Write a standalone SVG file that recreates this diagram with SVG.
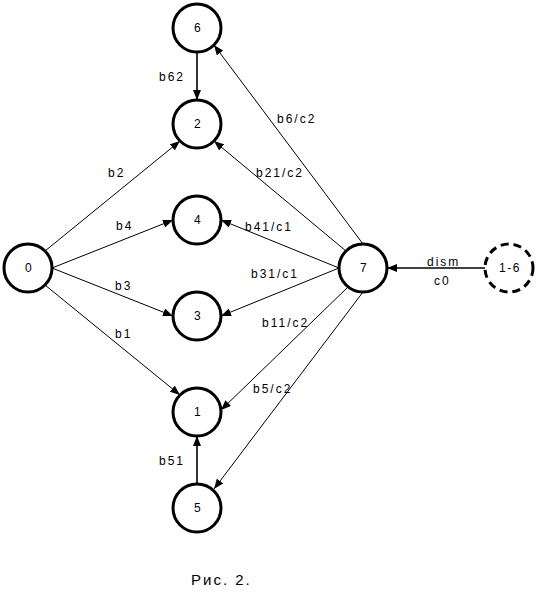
<svg xmlns="http://www.w3.org/2000/svg" width="537" height="607" viewBox="0 0 537 607">
<style>
.node circle{fill:#fff;stroke:#000;stroke-width:3}
.node text{font-family:"Liberation Sans",Arial,sans-serif;font-size:12px;letter-spacing:1.5px;text-anchor:middle;fill:#000}
.e{stroke:#000;stroke-width:1;fill:none;marker-end:url(#ah)}
.t{stroke-width:1.6}
.lbl{font-family:"Liberation Sans",Arial,sans-serif;font-size:12px;letter-spacing:2px;fill:#000}
.cap{font-family:"Liberation Sans",Arial,sans-serif;font-size:15px;letter-spacing:2px;fill:#000}
</style>
<defs>
<marker id="ah" viewBox="0 0 10 8" refX="10" refY="4" markerWidth="10" markerHeight="8" markerUnits="userSpaceOnUse" orient="auto">
<path d="M0,0 L10,4 L0,8 Z" fill="#000"/>
</marker>
</defs>
<rect width="537" height="607" fill="#fff"/>
<g id="connectors">
<line class="e t" x1="197" y1="52" x2="197" y2="100"/>
<line class="e t" x1="197" y1="484" x2="197" y2="436"/>
<line class="e t" x1="485" y1="268" x2="387" y2="268"/>
<line class="e" x1="45" y1="251" x2="180" y2="141"/>
<line class="e" x1="52" y1="268" x2="173" y2="220"/>
<line class="e" x1="52" y1="268" x2="173" y2="316"/>
<line class="e" x1="45" y1="285" x2="180" y2="395"/>
<line class="e" x1="363" y1="244" x2="214" y2="45"/>
<line class="e" x1="346" y1="251" x2="214" y2="141"/>
<line class="e" x1="339" y1="268" x2="221" y2="220"/>
<line class="e" x1="339" y1="268" x2="221" y2="316"/>
<line class="e" x1="348" y1="287" x2="221" y2="410"/>
<line class="e" x1="363" y1="292" x2="214" y2="489"/>
</g>
<g id="labels">
<text class="lbl" x="159" y="81">b62</text>
<text class="lbl" x="159" y="465">b51</text>
<text class="lbl" x="108" y="177">b2</text>
<text class="lbl" x="116" y="230">b4</text>
<text class="lbl" x="115" y="290">b3</text>
<text class="lbl" x="115" y="338">b1</text>
<text class="lbl" x="277" y="123">b6/c2</text>
<text class="lbl" x="256" y="177">b21/c2</text>
<text class="lbl" x="245" y="231">b41/c1</text>
<text class="lbl" x="251" y="278">b31/c1</text>
<text class="lbl" x="262" y="327">b11/c2</text>
<text class="lbl" x="253" y="393">b5/c2</text>
<text class="lbl" x="427" y="266">dism</text>
<text class="lbl" x="434" y="285">c0</text>
</g>
<g id="n6" class="node"><circle cx="197" cy="28" r="24"/><text x="198" y="32">6</text></g>
<g id="n2" class="node"><circle cx="197" cy="124" r="24"/><text x="198" y="128">2</text></g>
<g id="n4" class="node"><circle cx="197" cy="220" r="24"/><text x="198" y="224">4</text></g>
<g id="n3" class="node"><circle cx="197" cy="316" r="24"/><text x="198" y="320">3</text></g>
<g id="n1" class="node"><circle cx="197" cy="412" r="24"/><text x="198" y="416">1</text></g>
<g id="n5" class="node"><circle cx="197" cy="508" r="24"/><text x="198" y="512">5</text></g>
<g id="n0" class="node"><circle cx="28" cy="268" r="24"/><text x="29" y="272">0</text></g>
<g id="n7" class="node"><circle cx="363" cy="268" r="24"/><text x="364" y="272">7</text></g>
<g id="n16" class="node"><circle cx="509" cy="268" r="24" stroke-dasharray="8,5"/><text x="510" y="272">1-6</text></g>
<text class="cap" x="191" y="585">Рис. 2.</text>
</svg>
